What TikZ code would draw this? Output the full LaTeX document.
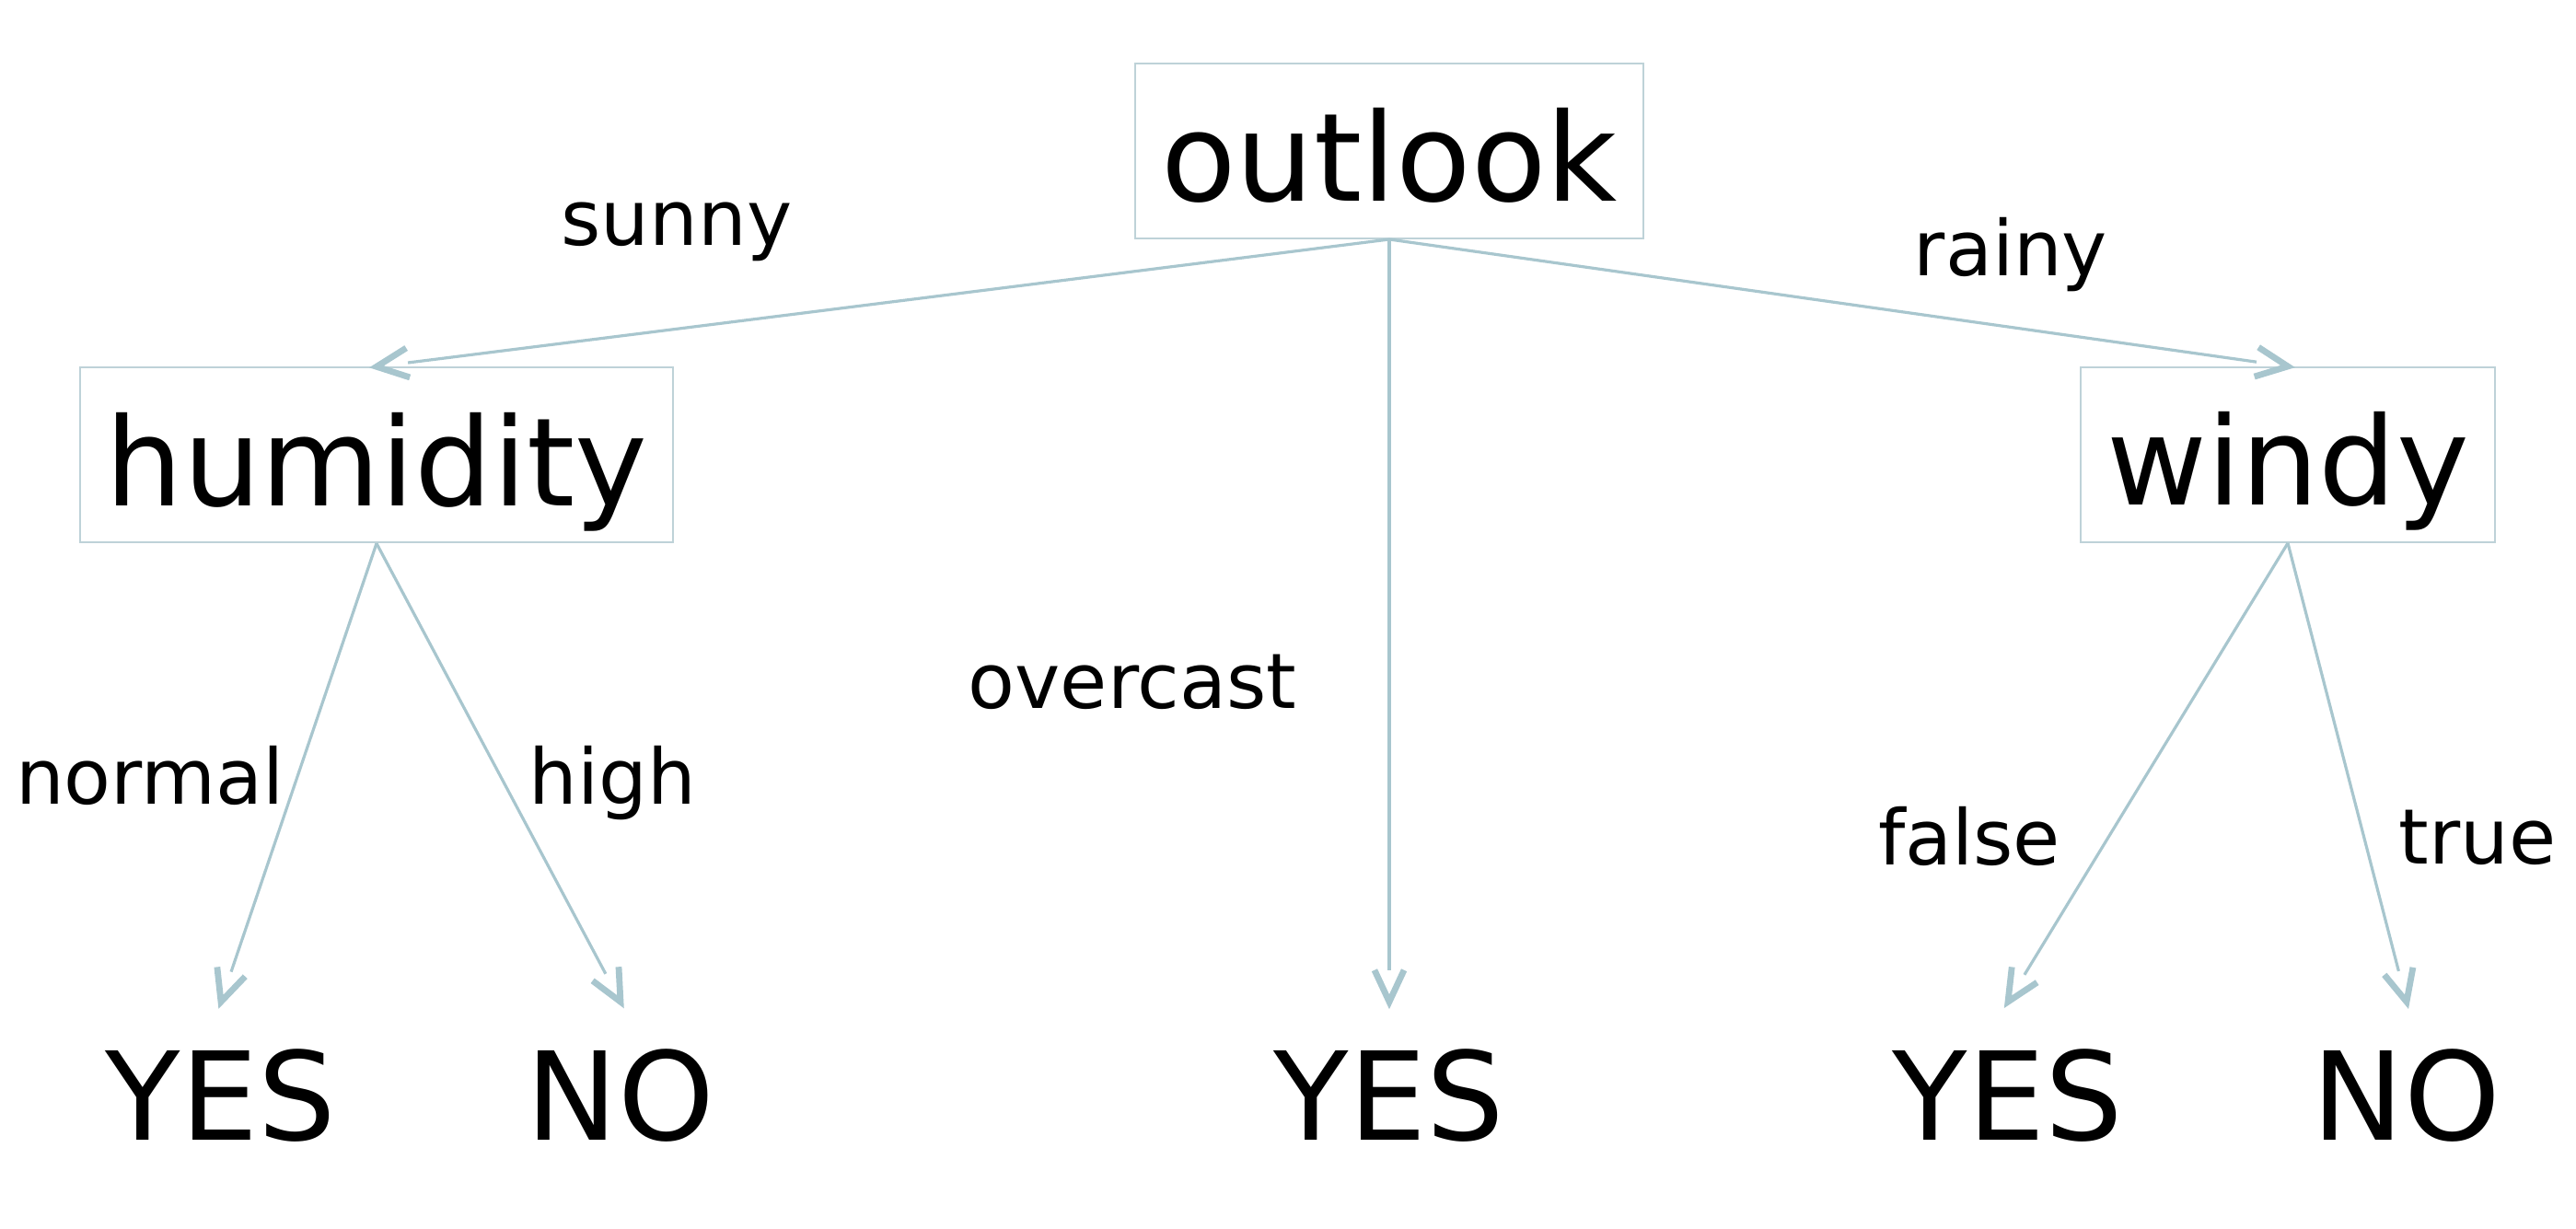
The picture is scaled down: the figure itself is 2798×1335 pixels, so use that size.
\documentclass[tikz,border=0pt]{standalone}
\usepackage{fontspec}
\setmainfont{DejaVu Sans}
\usetikzlibrary{calc}
\definecolor{edgecol}{RGB}{168,198,206}
\definecolor{boxcol}{RGB}{190,210,216}
\newcommand\treeedge[2]{%
  \draw[shaft] (#1.south) -- ($(#2.north)!8.6pt!(#1.south)$);
  \draw[head] ($(#2.north)!9.5pt!25:(#1.south)$) -- (#2.north) -- ($(#2.north)!9.5pt!-25:(#1.south)$);
}
\begin{document}
\begin{tikzpicture}[x=0.25pt,y=-0.25pt,
  attr/.style={draw=boxcol, line width=0.5pt, font=\fontsize{33.3}{40}\selectfont,
    inner xsep=7pt, inner ysep=0pt, text height=37.5pt, text depth=10pt, anchor=base},
  leaf/.style={font=\fontsize{33.3}{40}\selectfont, inner sep=0pt,
    text height=37.5pt, text depth=0pt, anchor=base},
  lbl/.style={font=\fontsize{20.8}{25}\selectfont, inner sep=0pt, anchor=base},
  shaft/.style={draw=edgecol, line width=0.8pt},
  head/.style={draw=edgecol, line width=1.7pt, line join=miter},
]
\useasboundingbox (0,0) rectangle (2798,1335);
\node[attr] (outlook) at (1509,219) {outlook};
\node[attr] (humidity) at (409,549.3) {humidity};
\node[attr] (windy) at (2485,549) {windy};
\node[leaf] (yes1) at (240,1239) {YES};
\node[leaf] (no1) at (674,1239) {NO};
\node[leaf] (yes2) at (1509,1239) {YES};
\node[leaf] (yes3) at (2181,1239) {YES};
\node[leaf] (no3) at (2614,1239) {NO};
\node[lbl] (lsunny) at (735,266.7) {sunny};
\node[lbl] (lrainy) at (2184,299.3) {rainy};
\node[lbl] (lovercast) at (1230,770) {overcast};
\node[lbl] (lnormal) at (163,874) {normal};
\node[lbl] (lhigh) at (665,874) {high};
\node[lbl] (lfalse) at (2139,939.3) {false};
\node[lbl] (ltrue) at (2691,939) {true};
\treeedge{outlook}{humidity}
\treeedge{outlook}{yes2}
\treeedge{outlook}{windy}
\treeedge{humidity}{yes1}
\treeedge{humidity}{no1}
\treeedge{windy}{yes3}
\treeedge{windy}{no3}
\end{tikzpicture}
\end{document}
